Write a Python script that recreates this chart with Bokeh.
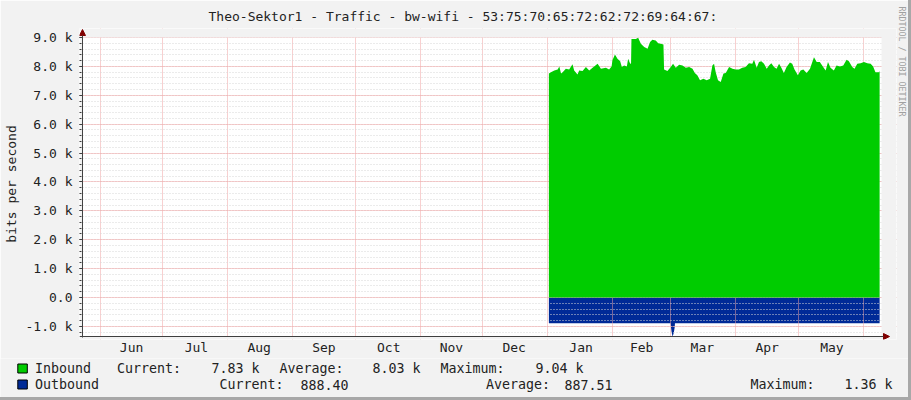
from math import pi
import numpy as np
from bokeh.plotting import figure
from bokeh.layouts import column, row
from bokeh.core.properties import value
from bokeh.models import (FixedTicker, BoxAnnotation, Arrow, NormalHead, Range1d,
                          Title)
from bokeh.embed import file_html
from bokeh.resources import INLINE

# ---------------- data ----------------
month_names = ["Jun", "Jul", "Aug", "Sep", "Oct", "Nov", "Dec",
               "Jan", "Feb", "Mar", "Apr", "May"]
# month boundaries in days relative to Jan 1
month_starts = [-214, -184, -153, -122, -92, -61, -31, 0, 31, 59, 90, 120, 151]

y_ticks = [-1, 0, 1, 2, 3, 4, 5, 6, 7, 8, 9]
y_labels = ["-1.0 k", "0.0", "1.0 k", "2.0 k", "3.0 k", "4.0 k",
            "5.0 k", "6.0 k", "7.0 k", "8.0 k", "9.0 k"]

# Inbound (k bits/s), days since Jan 1
in_days = [0.6, 1.6, 3.2, 4.8, 5.6, 6.4, 7.2, 8.7, 10.3, 11.9, 12.7, 14.3, 15.1,
           16.7, 18.3, 19.9, 21.5, 23.9, 25.5, 27.9, 29.4, 30.6, 31.0, 32.2, 33.4,
           34.7, 35.5, 36.6, 37.9, 38.5, 39.5, 39.9, 40.1, 42.2, 43.3, 44.6, 46.2,
           47.8, 49.0, 50.1, 51.7, 52.9, 54.1, 55.4, 55.7, 57.3, 58.9, 60.0, 61.3,
           62.9, 64.5, 66.1, 67.7, 69.3, 70.4, 71.6, 72.9, 74.5, 76.1, 77.7, 78.8,
           79.6, 80.4, 81.5, 82.8, 84.1, 85.2, 86.8, 88.4, 90.0, 91.5, 93.1, 94.7,
           96.3, 97.9, 98.7, 100.0, 101.1, 102.2, 103.5, 104.8, 105.9, 107.0, 108.3,
           109.5, 110.7, 111.8, 113.0, 114.3, 115.9, 117.0, 118.1, 119.7, 121.0,
           122.3, 123.9, 125.5, 126.6, 127.4, 128.7, 130.2, 131.8, 133.0, 134.1,
           135.3, 136.9, 138.2, 139.8, 141.4, 143.0, 144.1, 145.7, 146.8, 148.1,
           149.7, 151.3, 152.9, 154.5, 155.7, 156.8, 158.4, 158.8]
in_vals = [7.75, 7.80, 7.86, 7.89, 8.00, 7.75, 7.80, 7.92, 7.89, 8.07, 7.86, 7.72, 7.86,
           7.84, 7.98, 7.86, 7.95, 8.09, 7.92, 7.95, 7.89, 8.00, 8.21, 8.41, 8.26,
           8.18, 7.98, 8.03, 8.00, 8.26, 8.09, 8.10, 8.95, 8.95, 8.99, 8.78, 8.67,
           8.61, 8.84, 8.92, 8.90, 8.80, 8.78, 8.76, 7.89, 7.84, 7.98, 8.09, 7.95,
           8.06, 8.03, 7.95, 7.98, 7.92, 7.77, 7.69, 7.52, 7.57, 7.52, 7.57, 8.03,
           8.09, 7.80, 7.52, 7.46, 7.75, 7.77, 7.98, 7.92, 7.89, 7.89, 7.95, 7.98,
           8.11, 8.09, 8.23, 7.95, 8.15, 8.18, 8.09, 7.92, 8.03, 8.11, 7.98,
           7.92, 8.09, 7.95, 7.77, 7.98, 8.13, 8.09, 7.89, 7.69, 7.86,
           7.89, 7.77, 7.92, 8.15, 8.32, 8.15, 8.15, 7.98, 7.86, 8.15,
           7.95, 7.86, 8.03, 8.00, 8.03, 8.23, 8.18, 7.98, 7.92, 8.09,
           8.11, 8.15, 8.11, 8.09, 8.00, 7.80, 7.80, 7.83]

# Outbound (k bits/s), drawn below zero
out_days = [0.6, 58.8, 59.0, 59.3, 59.8, 60.4, 60.8, 60.9, 158.8]
out_vals = [0.888, 0.888, 1.02, 1.20, 1.36, 1.20, 1.02, 0.888, 0.888]

series_names = ["Inbound", "Outbound"]
stat_names = ["Current:", "Average:", "Maximum:"]
inbound_stats = ["7.83 k", "8.03 k", "9.04 k"]
outbound_stats = ["888.40", "887.51", "1.36 k"]

title_text = "Theo-Sektor1 - Traffic - bw-wifi - 53:75:70:65:72:62:72:69:64:67:"
side_text = "RRDTOOL / TOBI OETIKER"

# ---------------- style ----------------
BG = "#f2f2f2"
EDGE = "#a8a8a8"
GREEN = "#00cc00"
BLUE = "#002a97"
MGRID = "#f0a0a0"
GRID = "#d6d6d6"
AXIS = "#404040"
ARROW = "#800000"
FONT = "DejaVu Sans Mono"
FS = "13px"
TXT = "#222222"

# scale geometry (page pixels -> data), used only to set ranges
PX_DAY, JAN1 = 2.0932, 546.7
PX_K, ZERO = 28.89, 297.0


def dx(px):
    return (px - JAN1) / PX_DAY


def dy(py):
    return (ZERO - py) / PX_K


W = 908                     # + 3px edge drawn by CSS = 911
MAIN_H = 358
FR = 896                    # frame right (page px)
X0, X1 = dx(78), dx(FR)
Y0, Y1 = dy(339), dy(28)
XA, XC = dx(81), dx(881)          # canvas left / right
YB, YT = -1.35, 9.0               # canvas bottom / top

p = figure(width=W, height=MAIN_H, output_backend="svg", toolbar_location=None,
           x_range=Range1d(X0, X1), y_range=Range1d(Y0, Y1), title=title_text,
           min_border_left=78, min_border_right=W - FR, min_border_top=28,
           min_border_bottom=19, background_fill_color="white",
           border_fill_color=BG, outline_line_color=None)

p.title.align = "left"
p.title.offset = 129
p.title.text_font = FONT
p.title.text_font_size = FS
p.title.text_font_style = "normal"
p.title.text_color = TXT
p.title.standoff = 10

# vertical credit on the right side
p.add_layout(Title(text=side_text, align="left", offset=-22, standoff=0,
                   text_font=FONT, text_font_size="8.3px", text_font_style="normal",
                   text_color="#a0a0a0"), "right")

# data areas
p.varea(x=out_days, y1=0, y2=[-v for v in out_vals], fill_color=BLUE, level="image")
p.varea(x=in_days, y1=0, y2=in_vals, fill_color=GREEN)

# y axis
minor = [round(v, 1) for v in np.arange(-1.2, 9.01, 0.2)]
p.yaxis.ticker = FixedTicker(ticks=y_ticks, minor_ticks=minor)
p.yaxis.major_label_overrides = {t: l for t, l in zip(y_ticks, y_labels)}
p.yaxis.major_label_text_font = FONT
p.yaxis.major_label_text_font_size = FS
p.yaxis.major_label_text_color = TXT
p.yaxis.major_label_standoff = 7
p.yaxis.major_tick_out = 0
p.yaxis.major_tick_in = 3
p.yaxis.minor_tick_out = 0
p.yaxis.minor_tick_in = 2
p.yaxis.axis_line_color = None
p.yaxis.major_tick_line_color = AXIS
p.yaxis.minor_tick_line_color = AXIS
p.yaxis.axis_label = "bits per second"
p.yaxis.axis_label_text_font = FONT
p.yaxis.axis_label_text_font_size = FS
p.yaxis.axis_label_text_font_style = "normal"
p.yaxis.axis_label_text_color = TXT
p.yaxis.axis_label_standoff = 4

# x axis: labels in the middle of each month
mids = [round((a + b) / 2) for a, b in zip(month_starts[:-1], month_starts[1:])]
p.xaxis.ticker = FixedTicker(ticks=mids, minor_ticks=[])
p.xaxis.major_label_overrides = {m: n for m, n in zip(mids, month_names)}
p.xaxis.major_label_text_font = FONT
p.xaxis.major_label_text_font_size = FS
p.xaxis.major_label_text_color = TXT
p.xaxis.major_tick_out = 0
p.xaxis.major_tick_in = 0
p.xaxis.major_label_standoff = 0
p.xaxis.axis_line_color = None

# grids
p.xgrid.ticker = FixedTicker(ticks=month_starts)
p.xgrid.grid_line_color = MGRID
p.xgrid.grid_line_dash = "1 1"
p.ygrid.grid_line_color = MGRID
p.ygrid.grid_line_dash = "1 1"
p.ygrid.minor_grid_line_color = GRID
p.ygrid.minor_grid_line_dash = "1 2"

# grey outside the white canvas
for kw in (dict(bottom=YT), dict(top=YB), dict(right=XA), dict(left=XC)):
    p.add_layout(BoxAnnotation(fill_color=BG, fill_alpha=1, line_alpha=0,
                               level="underlay", **kw))

# axis lines with arrow heads
p.add_layout(Arrow(end=NormalHead(size=6, fill_color=ARROW, line_color=ARROW),
                   x_start=XA, y_start=dy(337), x_end=XA, y_end=dy(29),
                   line_color=AXIS, line_width=1))
p.add_layout(Arrow(end=NormalHead(size=6, fill_color=ARROW, line_color=ARROW),
                   x_start=X0, y_start=YB, x_end=dx(889), y_end=YB,
                   line_color=AXIS, line_width=1))

# ---------------- legend strip ----------------
BOT = 397
g = figure(width=W, height=BOT - MAIN_H, output_backend="svg", toolbar_location=None,
           x_range=Range1d(0, W), y_range=Range1d(BOT, MAIN_H),
           x_axis_type=None, y_axis_type=None, min_border=0, title=None,
           background_fill_color=BG, border_fill_color=BG, outline_line_color=None)
g.grid.visible = False

row_y = [368, 384]
name_x = 34.5
label_x = [[116.5, 279, 440], [219, 485.5, 750]]
value_right = [[259, 420, 583], [348, 612, 892]]
stats = [inbound_stats, outbound_stats]
sq_colors = [GREEN, BLUE]

g.quad(left=[17.3, 17.3], right=[26.8, 26.8],
       top=[row_y[0] - 4.5, row_y[1] - 4.5], bottom=[row_y[0] + 4.5, row_y[1] + 4.5],
       fill_color=sq_colors, line_color="#000000", line_width=1)
for r in range(2):
    y = row_y[r]
    g.text(x=[name_x] + label_x[r], y=[y] * 4, text=[series_names[r]] + stat_names,
           text_align="left", text_baseline="middle", text_font=value(FONT),
           text_font_size=value("13.3px"), text_color=TXT)
    g.text(x=value_right[r], y=[y] * 3, text=stats[r], text_align="right",
           text_baseline="middle", text_font=value(FONT),
           text_font_size=value("13.3px"), text_color=TXT)

layout = column(row(p, spacing=0), row(g, spacing=0), spacing=0,
                styles={"border-right": f"3px solid {EDGE}",
                        "border-bottom": f"3px solid {EDGE}"})
open("out.html", "w").write(file_html(layout, INLINE))
